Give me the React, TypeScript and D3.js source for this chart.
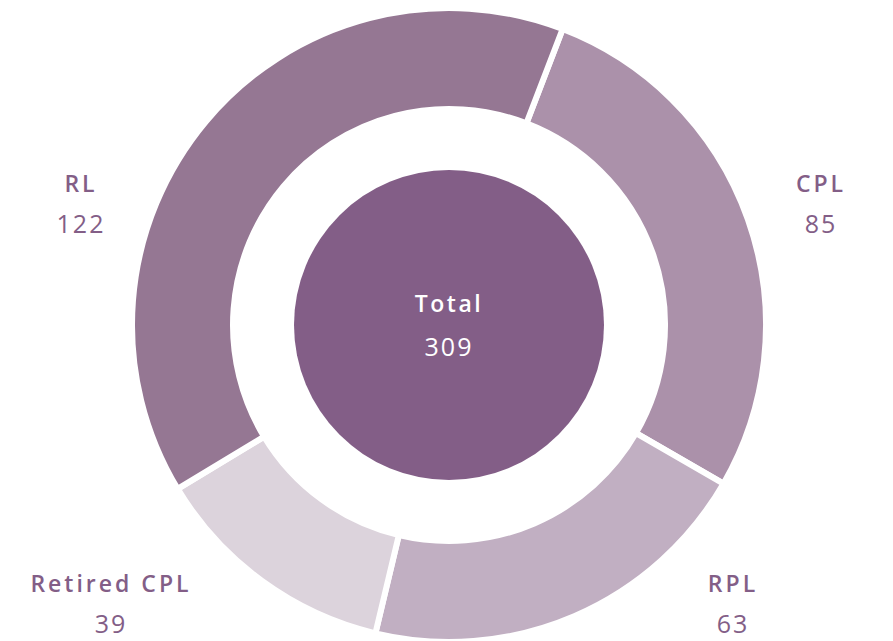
import React from "react";
import * as d3 from "d3";

const categories = ["CPL", "RPL", "Retired CPL", "RL"];
const values = [85, 63, 39, 122];
const colors = ["#ab91aa", "#c1afc2", "#dcd3dc", "#957793"];
const totalLabel = "Total";

const W = 893;
const H = 641;
const cx = 449;
const cy = 325;

export default function App() {
  const total = d3.sum(values);
  const startA = (21 * Math.PI) / 180;
  const pie = d3
    .pie<number>()
    .sort(null)
    .startAngle(startA)
    .endAngle(startA + 2 * Math.PI)(values);
  const arc = d3.arc<d3.PieArcDatum<number>>().innerRadius(216).outerRadius(317);

  const labelPos: [number, number][] = [
    [821, 192],
    [733, 592],
    [111, 592],
    [81, 192],
  ];
  const txtColor = "#835e87";
  const font = "'Open Sans', 'DejaVu Sans', sans-serif";

  return (
    <svg
      width={W}
      height={H}
      style={{ position: "absolute", left: 0, top: 0, background: "#fff" }}
    >
      <g transform={`translate(${cx},${cy})`}>
        {pie.map((d, i) => (
          <path key={i} d={arc(d) || ""} fill={colors[i]} stroke="#fff" strokeWidth={6} />
        ))}
        <circle r={155} fill="#835e87" />
        <text
          y={-13}
          textAnchor="middle"
          fill="#fff"
          fontFamily={font}
          fontWeight={600}
          fontSize={23}
          letterSpacing={2.5}
        >
          {totalLabel}
        </text>
        <text
          y={31}
          textAnchor="middle"
          fill="#fff"
          fontFamily={font}
          fontWeight={400}
          fontSize={25}
          letterSpacing={2}
        >
          {total}
        </text>
      </g>
      {categories.map((c, i) => (
        <g key={c}>
          <text
            x={labelPos[i][0]}
            y={labelPos[i][1]}
            textAnchor="middle"
            fill={txtColor}
            fontFamily={font}
            fontWeight={600}
            fontSize={23}
            letterSpacing={3}
          >
            {c}
          </text>
          <text
            x={labelPos[i][0]}
            y={labelPos[i][1] + 41}
            textAnchor="middle"
            fill={txtColor}
            fontFamily={font}
            fontWeight={400}
            fontSize={25}
            letterSpacing={2}
          >
            {values[i]}
          </text>
        </g>
      ))}
    </svg>
  );
}
